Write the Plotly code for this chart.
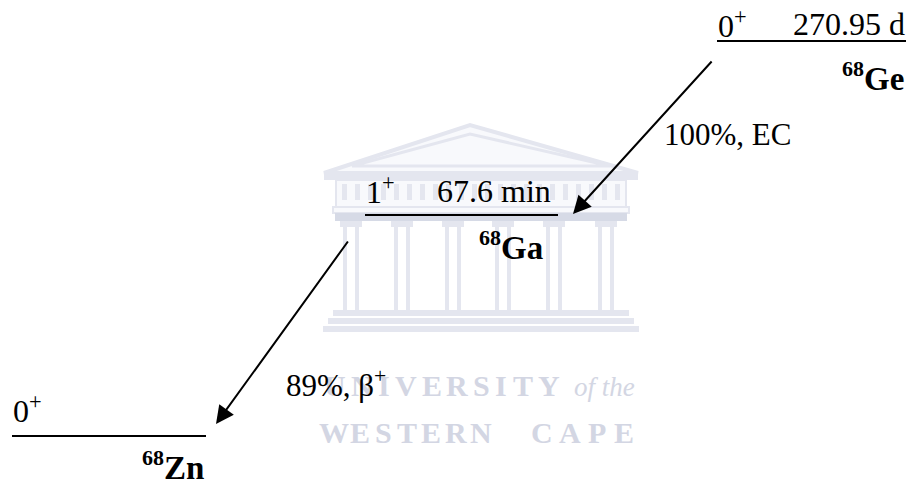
import plotly.graph_objects as go

# ---- data (decay scheme of 68Ge -> 68Ga -> 68Zn) ----
mass_number = ["68", "68", "68"]
elements = ["Ge", "Ga", "Zn"]
spins = ["0", "1", "0"]
parities = ["+", "+", "+"]
half_lives = ["270.95 d", "67.6 min", ""]
branch_labels = ["100%, EC", "89%, β<sup>+</sup>"]

# ---- layout (pixel-like coordinates of the scheme) ----
level_x0 = [717, 365, 12]
level_x1 = [906, 558, 206]
level_y = [41, 215, 436]
spin_pos = [(716, 24), (364, 190), (11, 409)]
hl_pos = [(907, 24), (553, 191), None]
name_pos = [(906, 76), (545, 245), (206, 465)]
arrow_from = [(713, 60), (349, 240)]
arrow_to = [(573, 214), (216, 424)]
branch_pos = [(662, 134), (284, 383)]

FONT = "Liberation Serif"
fig = go.Figure()

# ---- faint watermark (university logo) ----
wm = "#e4e6ef"
wm2 = "#d6dae6"
fillw = "#f8f9fc"
shapes = []
shapes.append(dict(type="path", path="M 324 173 L 470 125 L 638 173 Z", fillcolor=fillw,
                   line=dict(color=wm, width=4), layer="below"))
shapes.append(dict(type="path", path="M 352 166 L 470 134 L 610 166 Z", fillcolor=fillw,
                   line=dict(color=wm, width=3), layer="below"))
shapes.append(dict(type="rect", x0=324, x1=638, y0=172, y1=180, fillcolor=wm, line_width=0, layer="below"))
shapes.append(dict(type="rect", x0=336, x1=626, y0=180, y1=207, fillcolor=fillw,
                   line=dict(color=wm, width=2), layer="below"))
for bx in range(342, 622, 13):
    shapes.append(dict(type="rect", x0=bx, x1=bx + 5, y0=184, y1=200, fillcolor=wm, line_width=0, layer="below"))
shapes.append(dict(type="rect", x0=333, x1=629, y0=207, y1=213, fillcolor=fillw,
                   line=dict(color=wm, width=2), layer="below"))
shapes.append(dict(type="rect", x0=335, x1=627, y0=213, y1=221, fillcolor=wm2, line_width=0, layer="below"))
for cx in [351, 402, 453, 503, 554, 606]:
    shapes.append(dict(type="rect", x0=cx - 11, x1=cx + 11, y0=221, y1=227, fillcolor=wm, line_width=0,
                       layer="below"))
    for dx in (-6, 6):
        shapes.append(dict(type="rect", x0=cx + dx - 2, x1=cx + dx + 2, y0=227, y1=310, fillcolor=wm,
                           line_width=0, layer="below"))
shapes.append(dict(type="rect", x0=333, x1=629, y0=310, y1=316, fillcolor=wm, line_width=0, layer="below"))
shapes.append(dict(type="rect", x0=328, x1=634, y0=318, y1=324, fillcolor=wm, line_width=0, layer="below"))
shapes.append(dict(type="rect", x0=323, x1=639, y0=326, y1=332, fillcolor=wm, line_width=0, layer="below"))

annotations = []
wm_text = "#d3d6e3"
uni_letters = list("UNIVERSITY")
uni_x = [335, 362, 384, 406, 432, 457, 481, 501, 523, 549]
for ch, x in zip(uni_letters, uni_x):
    annotations.append(dict(x=x, y=385, text=f"<b>{ch}</b>", showarrow=False, xanchor="center",
                            yanchor="middle", font=dict(family=FONT, size=30, color=wm_text)))
annotations.append(dict(x=572, y=387, text="<i>of the</i>", showarrow=False, xanchor="left", yanchor="middle",
                        font=dict(family=FONT, size=27, color=wm_text)))
wc_letters = list("WESTERNCAPE")
wc_x = [334, 360, 383, 407, 431, 456, 481, 542, 570, 597, 624]
for ch, x in zip(wc_letters, wc_x):
    annotations.append(dict(x=x, y=432, text=f"<b>{ch}</b>", showarrow=False, xanchor="center",
                            yanchor="middle", font=dict(family=FONT, size=30, color=wm_text)))

# ---- levels ----
for i in range(len(elements)):
    fig.add_trace(go.Scatter(x=[level_x0[i], level_x1[i]], y=[level_y[i], level_y[i]], mode="lines",
                             line=dict(color="black", width=2), hoverinfo="skip", showlegend=False))
    sx, sy = spin_pos[i]
    annotations.append(dict(x=sx, y=sy, text=f"{spins[i]}<sup>{parities[i]}</sup>", showarrow=False,
                            xanchor="left", yanchor="middle", font=dict(family=FONT, size=32, color="black")))
    if hl_pos[i] is not None and half_lives[i]:
        hx, hy = hl_pos[i]
        annotations.append(dict(x=hx, y=hy, text=half_lives[i], showarrow=False, xanchor="right",
                                yanchor="middle", font=dict(family=FONT, size=32, color="black")))
    nx, ny = name_pos[i]
    annotations.append(dict(x=nx, y=ny,
                            text=f"<b><sup><span style='font-size:22px'>{mass_number[i]}</span></sup>{elements[i]}</b>",
                            showarrow=False, xanchor="right", yanchor="middle",
                            font=dict(family=FONT, size=33, color="black")))

# ---- decay arrows ----
for i in range(len(branch_labels)):
    (ax, ay), (tx, ty) = arrow_from[i], arrow_to[i]
    annotations.append(dict(x=tx, y=ty, ax=ax, ay=ay, xref="x", yref="y", axref="x", ayref="y", text="",
                            showarrow=True, arrowhead=2, arrowsize=1.8, arrowwidth=2, arrowcolor="black"))
    bx, by = branch_pos[i]
    annotations.append(dict(x=bx, y=by, text=branch_labels[i], showarrow=False, xanchor="left", yanchor="middle",
                            font=dict(family=FONT, size=31, color="black")))

fig.update_layout(
    width=907, height=479, margin=dict(l=0, r=0, t=0, b=0),
    paper_bgcolor="white", plot_bgcolor="white",
    xaxis=dict(range=[0, 907], visible=False, fixedrange=True),
    yaxis=dict(range=[479, 0], visible=False, fixedrange=True),
    shapes=shapes, annotations=annotations, showlegend=False,
)
fig.write_html("out.html")
